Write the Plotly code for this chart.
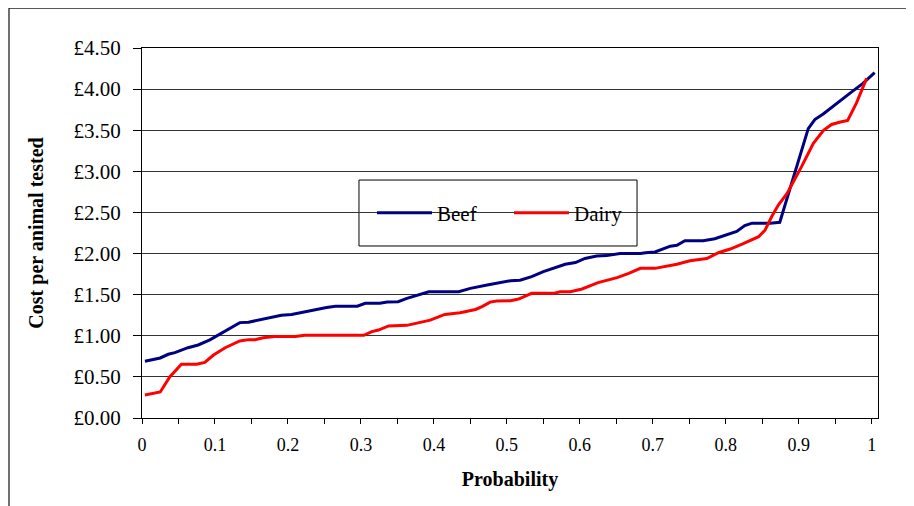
import plotly.graph_objects as go

# ---- data ----
beef_p = [0.004, 0.025, 0.036, 0.045, 0.063, 0.077, 0.093, 0.105, 0.116, 0.134,
          0.146, 0.164, 0.191, 0.205, 0.232, 0.253, 0.265, 0.295, 0.306, 0.326,
          0.336, 0.351, 0.363, 0.379, 0.393, 0.434, 0.450, 0.473, 0.505, 0.518,
          0.534, 0.550, 0.566, 0.580, 0.594, 0.607, 0.623, 0.637, 0.655, 0.683,
          0.690, 0.703, 0.724, 0.733, 0.744, 0.769, 0.785, 0.801, 0.815, 0.826,
          0.836, 0.861, 0.874, 0.913, 0.922, 0.934, 0.952, 0.973, 0.988, 1.004]
beef_cost = [0.69, 0.73, 0.775, 0.795, 0.855, 0.888, 0.95, 1.01, 1.06, 1.16,
             1.165, 1.20, 1.25, 1.26, 1.31, 1.345, 1.36, 1.36, 1.395, 1.395,
             1.41, 1.415, 1.455, 1.495, 1.536, 1.536, 1.577, 1.617, 1.67, 1.675,
             1.72, 1.78, 1.83, 1.87, 1.89, 1.94, 1.97, 1.975, 2.0, 2.0,
             2.01, 2.02, 2.09, 2.10, 2.155, 2.157, 2.18, 2.226, 2.27, 2.34,
             2.37, 2.37, 2.38, 3.52, 3.63, 3.70, 3.83, 3.97, 4.07, 4.20]

dairy_p = [0.004, 0.025, 0.038, 0.054, 0.075, 0.086, 0.098, 0.114, 0.134, 0.146,
           0.155, 0.166, 0.182, 0.210, 0.223, 0.304, 0.315, 0.324, 0.338, 0.363,
           0.395, 0.415, 0.436, 0.457, 0.466, 0.477, 0.486, 0.505, 0.516, 0.534,
           0.564, 0.573, 0.587, 0.603, 0.625, 0.651, 0.667, 0.683, 0.703, 0.733,
           0.751, 0.774, 0.790, 0.806, 0.824, 0.845, 0.854, 0.863, 0.872, 0.884,
           0.904, 0.920, 0.934, 0.945, 0.957, 0.967, 0.979, 0.993]
dairy_cost = [0.28, 0.316, 0.50, 0.653, 0.653, 0.677, 0.766, 0.855, 0.937, 0.953,
              0.953, 0.977, 0.99, 0.99, 1.005, 1.005, 1.05, 1.07, 1.12, 1.127,
              1.19, 1.26, 1.28, 1.32, 1.355, 1.41, 1.423, 1.427, 1.447, 1.516,
              1.516, 1.536, 1.536, 1.569, 1.646, 1.707, 1.76, 1.82, 1.82, 1.87,
              1.913, 1.94, 2.01, 2.055, 2.12, 2.205, 2.287, 2.45, 2.59, 2.73,
              3.06, 3.34, 3.50, 3.57, 3.60, 3.62, 3.83, 4.13]

x_tickvals = [0, 0.1, 0.2, 0.3, 0.4, 0.5, 0.6, 0.7, 0.8, 0.9, 1]
x_ticktext = ["0", "0.1", "0.2", "0.3", "0.4", "0.5", "0.6", "0.7", "0.8", "0.9", "1"]
y_tickvals = [0, 0.5, 1.0, 1.5, 2.0, 2.5, 3.0, 3.5, 4.0, 4.5]
y_ticktext = ["£0.00", "£0.50", "£1.00", "£1.50", "£2.00", "£2.50",
              "£3.00", "£3.50", "£4.00", "£4.50"]

FONT = "Liberation Serif"

fig = go.Figure()
fig.add_trace(go.Scatter(x=beef_p, y=beef_cost, mode="lines", name="Beef",
                         line=dict(color="#000080", width=3)))
fig.add_trace(go.Scatter(x=dairy_p, y=dairy_cost, mode="lines", name="Dairy",
                         line=dict(color="#FF0000", width=3)))

# the page body adds an 8px offset, so the figure is 8px smaller than the window
fig.update_layout(
    width=906, height=498,
    margin=dict(l=134, r=36, t=40, b=88, autoexpand=False),
    paper_bgcolor="white", plot_bgcolor="white",
    font=dict(family=FONT, color="black"),
    showlegend=True,
    legend=dict(orientation="h", x=0.3125, y=0.554, xanchor="left", yanchor="middle",
                bgcolor="rgba(0,0,0,0)", borderwidth=0,
                font=dict(family=FONT, size=21, color="black"),
                itemwidth=55, entrywidth=67, entrywidthmode="pixels"),
    shapes=[
        # legend frame
        dict(type="rect", xref="paper", yref="paper", x0=0.2948, x1=0.6726,
             y0=0.4649, y1=0.6432, line=dict(color="black", width=1),
             fillcolor="white", layer="between"),
        # outer chart frame (top and left edges)
        dict(type="line", xref="paper", yref="paper", x0=-0.1807, x1=1.06,
             y0=1.1081, y1=1.1081, line=dict(color="#222222", width=1.3)),
        dict(type="line", xref="paper", yref="paper", x0=-0.1807, x1=-0.1807,
             y0=1.1081, y1=-0.25, line=dict(color="#222222", width=1.3)),
    ],
)

fig.update_xaxes(
    range=[0, 1.0086], tickvals=x_tickvals, ticktext=x_ticktext,
    ticks="outside", ticklen=5, tickcolor="black", tickwidth=1,
    ticklabelstandoff=5,
    minor=dict(dtick=0.05, ticks="outside", ticklen=5, tickcolor="black", showgrid=False),
    showgrid=False, zeroline=False,
    showline=True, linecolor="black", linewidth=1, mirror=True,
    tickfont=dict(family=FONT, size=18, color="black"),
    title=dict(text="Probability", standoff=18,
               font=dict(family=FONT, size=20, color="black", weight="bold")),
)
fig.update_yaxes(
    range=[0, 4.5], tickvals=y_tickvals, ticktext=y_ticktext,
    ticks="outside", ticklen=8, tickcolor="black", tickwidth=1,
    ticklabelstandoff=8,
    showgrid=True, gridcolor="#333333", gridwidth=1, zeroline=False,
    showline=True, linecolor="black", linewidth=1, mirror=True,
    tickfont=dict(family=FONT, size=21, color="black"),
    title=dict(text="Cost per animal tested", standoff=24,
               font=dict(family=FONT, size=20, color="black", weight="bold")),
)

fig.write_html("out.html")
